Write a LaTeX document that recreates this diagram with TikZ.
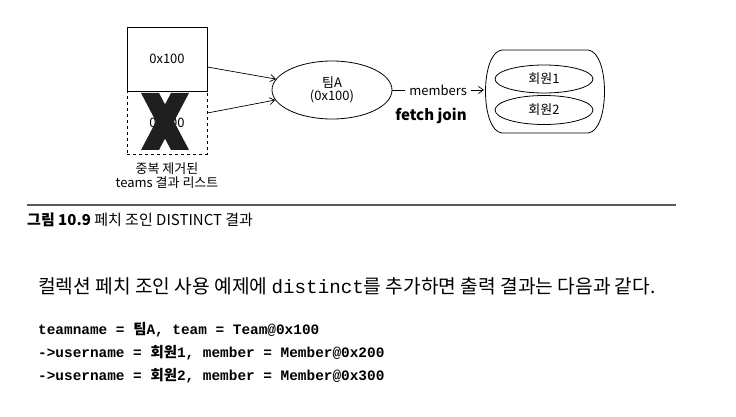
\documentclass[tikz,border=0pt]{standalone}
\usepackage{fontspec}
\setmainfont{Liberation Sans}
\newfontfamily\kr{Noto Sans CJK KR}
\newfontfamily\mono{Liberation Mono}
\usetikzlibrary{arrows.meta,shapes.geometric,calc}
\begin{document}
\begin{tikzpicture}[x=1pt,y=-1pt,
  lbl/.style={font=\kr\fontsize{13}{15}\selectfont, inner sep=1pt},
  memo/.style={draw, line width=0.8pt, minimum width=80pt},
  conn/.style={line width=0.7pt, -{Straight Barb[length=5pt,width=7pt]}},
  oval/.style={draw, ellipse, line width=0.8pt},
  crossmark/.style={fill=black!88},
  codeline/.style={anchor=west, inner sep=0pt, font=\mono\bfseries\fontsize{14.4}{16}\selectfont}
]
\useasboundingbox (0,0) rectangle (736,417);
% left boxes
\node[memo, minimum height=64pt] (box1) at (167,59) {};
\node[lbl] (t1) at (box1.center) {0x100};
\node[memo, dashed, minimum height=63pt] (box2) at (167,122.5) {};
\node[lbl] (t2) at (box2.center) {0x100};
% cross-out mark
\fill[crossmark] (141,93) -- (159,93) -- (189,150) -- (171,150) -- cycle;
\fill[crossmark] (171,93) -- (189,93) -- (159,150) -- (141,150) -- cycle;
\node[lbl, align=center] (cap) at (167,176) {중복 제거된\\[-1pt]teams 결과 리스트};
% team ellipse
\node[oval, minimum width=120pt, minimum height=58pt, align=center, font=\kr\fontsize{13}{15}\selectfont] (team) at (332,90) {팀A\\[-2pt](0x100)};
\draw[conn] ($(box1.east)+(0,8)$) -- (team.169);
\draw[conn] ($(box2.east)+(0,-9.5)$) -- (team.190);
% container
\draw[line width=0.8pt] (502,50) -- (588,50) .. controls (610,52) and (610,131) .. (588,133) -- (502,133) .. controls (480,131) and (480,52) .. (502,50) -- cycle;
\coordinate (cont) at (484,90);
\node[oval, minimum width=98pt, minimum height=28pt, font=\kr\fontsize{13}{15}\selectfont] (m1) at (544,79) {회원1};
\node[oval, minimum width=98pt, minimum height=29pt, font=\kr\fontsize{13}{15}\selectfont] (m2) at (544,110) {회원2};
\draw[conn] (team.east) -- node[fill=white, lbl, inner sep=4pt] (mem) {members} (cont);
\node[font=\kr\bfseries\fontsize{15}{17}\selectfont] (fj) at (431,116) {fetch join};
% rule and caption
\draw[black!65, line width=1.3pt] (27,205) -- (676,205);
\node[anchor=west, inner sep=0pt, font=\kr\fontsize{15}{17}\selectfont] (caption) at (27,220) {\textbf{그림 10.9} 페치 조인 DISTINCT 결과};
% body text
\node[anchor=west, inner sep=0pt, font=\kr\fontsize{19.2}{22}\selectfont] (body) at (38,286) {컬렉션 페치 조인 사용 예제에 {\mono distinct}를 추가하면 출력 결과는 다음과 같다.};
% code
\node[codeline] (c1) at (38,330) {teamname = {\kr 팀}A, team = Team@0x100};
\node[codeline] (c2) at (38,353) {->username = {\kr 회원}1, member = Member@0x200};
\node[codeline] (c3) at (38,376) {->username = {\kr 회원}2, member = Member@0x300};
\end{tikzpicture}
\end{document}
